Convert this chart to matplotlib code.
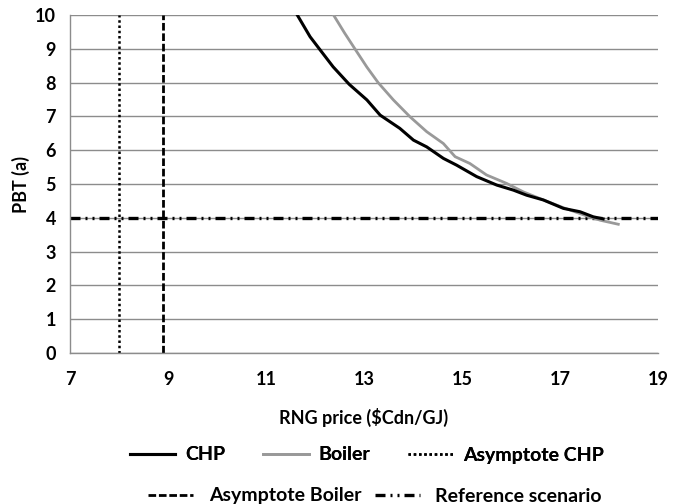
import matplotlib
matplotlib.use("Agg")
import matplotlib.pyplot as plt

chp_x = [11.64, 11.90, 12.10, 12.37, 12.70, 13.06, 13.33, 13.73, 14.01, 14.28, 14.62, 14.89, 15.30, 15.71, 16.05, 16.32, 16.66, 17.07, 17.41, 17.68, 17.88]
chp_y = [10.0, 9.36, 8.98, 8.47, 7.95, 7.49, 7.04, 6.65, 6.30, 6.10, 5.76, 5.56, 5.22, 4.97, 4.82, 4.67, 4.53, 4.28, 4.18, 4.03, 3.97]
boiler_x = [12.38, 12.60, 12.82, 13.06, 13.29, 13.60, 13.94, 14.28, 14.62, 14.86, 15.16, 15.50, 15.91, 16.25, 16.66, 17.07, 17.54, 17.82, 18.19]
boiler_y = [10.0, 9.48, 8.99, 8.46, 8.00, 7.49, 6.99, 6.55, 6.20, 5.81, 5.61, 5.27, 5.02, 4.77, 4.53, 4.30, 4.06, 3.93, 3.81]
asym_chp = 8.0
asym_boiler = 8.9
reference_pbt = 4
x_ticks = [7, 9, 11, 13, 15, 17, 19]
y_ticks = list(range(0, 11))

plt.rcParams['font.family'] = ['Lato', 'DejaVu Sans']

fig = plt.figure(figsize=(6.82, 5.04), dpi=100)
ax = fig.add_axes([0.1026, 0.2996, 0.8622, 0.6704])

ax.set_xlim(7, 19)
ax.set_ylim(0, 10)
ax.set_xticks(x_ticks)
ax.set_yticks(y_ticks)
ax.grid(axis='y', color='#8c8c8c', linewidth=1.0)
ax.set_axisbelow(True)
for s in ['top', 'right']:
    ax.spines[s].set_visible(False)
for s in ['left', 'bottom']:
    ax.spines[s].set_color('#8c8c8c')
    ax.spines[s].set_linewidth(1.0)
ax.tick_params(axis='x', length=0, pad=13, labelsize=13)
ax.tick_params(axis='y', length=0, pad=10, labelsize=13)
for lbl in ax.get_xticklabels() + ax.get_yticklabels():
    lbl.set_fontweight('bold')

l_asc = ax.axvline(asym_chp, color='black', linestyle=(0, (1, 1.1)), linewidth=1.8, label='Asymptote CHP')
l_asb = ax.axvline(asym_boiler, color='black', linestyle=(0, (2.75, 1)), linewidth=2.0, label='Asymptote Boiler')
l_ref = ax.axhline(reference_pbt, color='black', linestyle=(0, (3, 1.5, 0.6, 1.5, 0.6, 1.5)), linewidth=2.4, label='Reference scenario')
l_boi, = ax.plot(boiler_x, boiler_y, color='#999999', linewidth=2.0, label='Boiler')
l_chp, = ax.plot(chp_x, chp_y, color='black', linewidth=2.2, label='CHP')

ax.set_xlabel('RNG price ($Cdn/GJ)', fontsize=13, fontweight='bold', labelpad=14)
ax.set_ylabel('PBT (a)', fontsize=13, fontweight='bold', labelpad=4)

leg1 = fig.legend(handles=[l_chp, l_boi, l_asc], loc='center', bbox_to_anchor=(367 / 682, 1 - 455 / 504),
                  ncol=3, frameon=False, prop={'size': 14, 'weight': 'bold'}, handlelength=2.35,
                  columnspacing=1.95, handletextpad=0.5)
leg2 = fig.legend(handles=[l_asb, l_ref], loc='center', bbox_to_anchor=(375 / 682, 1 - 496 / 504),
                  ncol=2, frameon=False, prop={'size': 14, 'weight': 'bold'}, handlelength=2.3,
                  columnspacing=0.7, handletextpad=0.8)
fig.add_artist(leg1)

fig.savefig('out.png', dpi=100)
